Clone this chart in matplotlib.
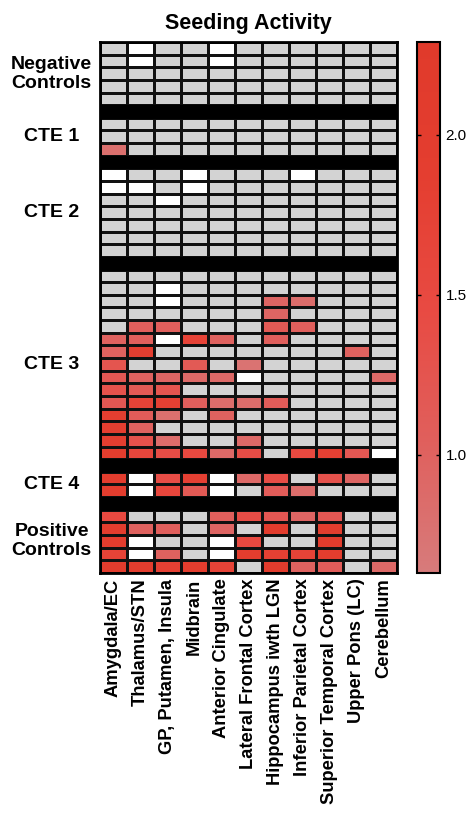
import matplotlib
matplotlib.use('Agg')
import matplotlib.pyplot as plt
import numpy as np
from matplotlib.colors import LinearSegmentedColormap, Normalize

plt.rcParams['font.family'] = ['Liberation Sans', 'DejaVu Sans']

# G = below threshold (grey), W = no data (white)
G = 0.0
W = np.nan

regions = ['Amygdala/EC', 'Thalamus/STN', 'GP, Putamen, Insula', 'Midbrain',
           'Anterior Cingulate', 'Lateral Frontal Cortex', 'Hippocampus iwth LGN',
           'Inferior Parietal Cortex', 'Superior Temporal Cortex', 'Upper Pons (LC)',
           'Cerebellum']

group_labels = ['Negative\nControls', 'CTE 1', 'CTE 2', 'CTE 3', 'CTE 4', 'Positive\nControls']

negative_controls = [
    [G, W, G, G, W, G, G, G, G, G, G],
    [G, W, G, G, W, G, G, G, G, G, G],
    [G, G, G, G, G, G, G, G, G, G, G],
    [G, G, G, G, G, G, G, G, G, G, G],
    [G, G, G, G, G, G, G, G, G, G, G],
]
cte1 = [
    [G, G, G, G, G, G, G, G, G, G, G],
    [G, G, G, G, G, G, G, G, G, G, G],
    [0.8, G, G, G, G, G, G, G, G, G, G],
]
cte2 = [
    [W, G, G, W, G, G, G, W, G, G, G],
    [W, W, G, W, G, G, G, G, G, G, G],
    [G, G, W, G, G, G, G, G, G, G, G],
    [G, G, G, G, G, G, G, G, G, G, G],
    [G, G, G, G, G, G, G, G, G, G, G],
    [G, G, G, G, G, G, G, G, G, G, G],
    [G, G, G, G, G, G, G, G, G, G, G],
]
cte3 = [
    [G, G, G, G, G, G, G, G, G, G, G],
    [G, G, W, G, G, G, G, G, G, G, G],
    [G, G, W, G, G, G, 0.95, 0.85, G, G, G],
    [G, G, G, G, G, G, 0.95, G, G, G, G],
    [G, 1.05, 1.05, G, G, G, 1.15, 1.05, G, G, G],
    [1.0, 1.05, W, 1.7, 1.0, G, 1.05, G, G, G, G],
    [1.0, 1.9, G, G, G, G, G, G, G, 1.0, G],
    [1.25, G, G, 1.15, G, 0.75, G, G, G, G, G],
    [1.2, 1.0, 0.95, 0.9, 0.9, W, G, G, G, G, 0.9],
    [1.3, 1.15, 1.25, G, G, G, G, G, G, G, G],
    [1.2, 1.7, 1.8, 1.05, 0.85, 0.85, 1.1, G, G, G, G],
    [1.9, 1.1, 0.8, G, 1.0, G, G, G, G, G, G],
    [1.9, 1.0, G, G, G, G, G, G, G, G, G],
    [1.9, 1.3, 0.85, G, G, 0.9, G, G, G, G, G],
    [2.0, 1.6, 1.4, 1.5, 0.9, 1.4, G, 1.5, 1.8, 1.2, W],
]
cte4 = [
    [2.0, W, 1.4, 1.8, W, 0.9, 1.4, G, 1.3, 0.95, G],
    [2.0, W, 1.6, 1.15, W, G, 1.1, 0.85, G, G, G],
]
positive_controls = [
    [1.5, G, G, G, 1.05, 1.4, 1.2, 0.95, 1.2, G, G],
    [2.0, 1.0, 1.05, G, 0.95, G, 2.1, G, 2.0, G, G],
    [2.0, W, G, G, W, 1.5, G, G, 2.1, G, G],
    [1.7, W, 1.0, G, W, 2.0, 1.8, 1.7, 2.0, G, G],
    [2.1, 2.0, 1.8, 2.0, 1.7, G, 2.1, 1.0, 1.1, G, 0.9],
]
groups = [negative_controls, cte1, cte2, cte3, cte4, positive_controls]

# stack groups with one separator row between each
rows = []
sep_rows = []
centers = []
for i, g in enumerate(groups):
    start = len(rows)
    rows.extend(g)
    centers.append(start + len(g) / 2)
    if i < len(groups) - 1:
        sep_rows.append(len(rows))
        rows.append([W] * len(regions))
data = np.ma.masked_invalid(np.array(rows, dtype=float))

cmap = LinearSegmentedColormap.from_list(
    'seed', ['#d77b7b', '#e05f5c', '#e84a42', '#e43e30', '#e03a2b'])
cmap.set_under('#d3d3d3')
cmap.set_bad('white')
norm = Normalize(vmin=0.63, vmax=2.29)

fig = plt.figure(figsize=(4.68, 8.23), dpi=100)
W_PX, H_PX = 468, 823
ax = fig.add_axes([100 / W_PX, 1 - 573 / H_PX, 297 / W_PX, 531 / H_PX])
cax = fig.add_axes([417 / W_PX, 1 - 573 / H_PX, 23 / W_PX, 531 / H_PX])

mesh = ax.pcolormesh(data, cmap=cmap, norm=norm, edgecolors='#111111', linewidth=0.8)
for r in sep_rows:
    ax.axhspan(r, r + 1, color='black', zorder=3)
ax.set_xlim(0, len(regions))
ax.set_ylim(len(rows), 0)
for s in ax.spines.values():
    s.set_linewidth(2)

ax.set_xticks(np.arange(len(regions)) + 0.5)
ax.set_xticklabels(regions, rotation=90, fontsize=13.2, fontweight='bold')
ax.set_yticks([])
ax.tick_params(axis='x', length=0, pad=4)

trans = ax.get_yaxis_transform()
for lab, c in zip(group_labels, centers):
    ax.text(-0.163, c, lab, transform=trans, ha='center', va='center',
            fontsize=14, fontweight='bold', linespacing=1.15)

ax.set_title('Seeding Activity', fontsize=15.5, fontweight='bold', pad=9)

cb = fig.colorbar(mesh, cax=cax, extend='neither')
cb.set_ticks([1.0, 1.5, 2.0])
cb.ax.tick_params(labelsize=11, direction='in', length=3, width=1, left=True, right=True, pad=4)
cb.outline.set_linewidth(1.5)

plt.savefig('out.png', dpi=100)
